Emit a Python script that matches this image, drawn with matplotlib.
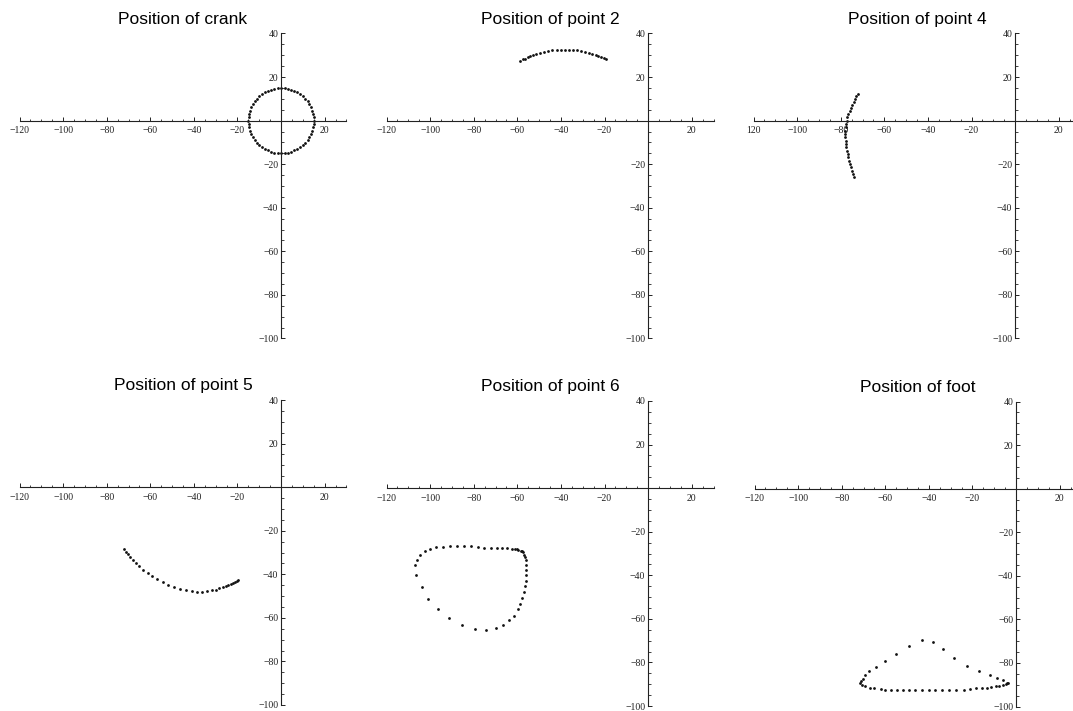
import matplotlib
matplotlib.use("Agg")
import matplotlib.pyplot as plt
from matplotlib.ticker import FixedLocator

# Posiciones (x, y) para cada punto del mecanismo

# Manivela: círculo de radio ~15 alrededor del origen
crank_x = [15.0, 14.92, 14.67, 14.27, 13.70, 12.99, 12.14, 11.15, 10.04, 8.82,
           7.50, 6.10, 4.64, 3.12, 1.57, 0.0, -1.57, -3.12, -4.64, -6.10,
           -7.50, -8.82, -10.04, -11.15, -12.14, -12.99, -13.70, -14.27, -14.67, -14.92,
           -15.0, -14.92, -14.67, -14.27, -13.70, -12.99, -12.14, -11.15, -10.04, -8.82,
           -7.50, -6.10, -4.64, -3.12, -1.57, 0.0, 1.57, 3.12, 4.64, 6.10,
           7.50, 8.82, 10.04, 11.15, 12.14, 12.99, 13.70, 14.27, 14.67, 14.92]
crank_y = [0.0, 1.57, 3.12, 4.64, 6.10, 7.50, 8.82, 10.04, 11.15, 12.14,
           12.99, 13.70, 14.27, 14.67, 14.92, 15.0, 14.92, 14.67, 14.27, 13.70,
           12.99, 12.14, 11.15, 10.04, 8.82, 7.50, 6.10, 4.64, 3.12, 1.57,
           0.0, -1.57, -3.12, -4.64, -6.10, -7.50, -8.82, -10.04, -11.15, -12.14,
           -12.99, -13.70, -14.27, -14.67, -14.92, -15.0, -14.92, -14.67, -14.27, -13.70,
           -12.99, -12.14, -11.15, -10.04, -8.82, -7.50, -6.10, -4.64, -3.12, -1.57]

# Punto 2
p2_x = [-58.7, -57.6, -56.6, -55.3, -54.1, -52.8, -51.2, -49.5, -47.7, -45.9, -43.9, -41.9, -40.0,
        -38.2, -36.4, -34.5, -32.7, -30.9, -29.0, -27.3, -25.7, -24.1, -22.8, -21.6, -20.3, -19.1]
p2_y = [27.4, 28.1, 28.5, 29.1, 29.6, 30.0, 30.5, 31.0, 31.4, 31.9, 32.2, 32.5, 32.6,
        32.6, 32.5, 32.3, 32.2, 31.9, 31.6, 31.1, 30.7, 30.2, 29.7, 29.3, 28.8, 28.4]

# Punto 4
p4_x = [-72.2, -72.8, -73.4, -74.0, -74.6, -75.2, -75.8, -76.5, -76.9, -77.2, -77.5, -77.7, -77.8,
        -77.8, -77.8, -77.7, -77.5, -77.4, -77.1, -76.8, -76.5, -76.0, -75.6, -75.1, -74.6, -74.2, -73.9]
p4_y = [12.2, 11.1, 9.9, 8.7, 7.3, 6.0, 4.6, 3.1, 1.5, 0.0, -1.5, -3.1, -4.6,
        -6.1, -7.7, -9.2, -10.7, -12.2, -13.8, -15.3, -16.8, -18.3, -19.9, -21.4, -22.9, -24.5, -25.7]

# Punto 5
p5_x = [-71.9, -71.1, -70.3, -69.3, -68.0, -66.7, -65.1, -63.2, -61.2, -59.0, -56.7, -54.3, -51.7,
        -49.1, -46.3, -43.7, -41.0, -38.4, -36.1, -33.8, -31.8, -30.0, -28.3, -26.7, -25.4, -24.2,
        -23.1, -22.2, -21.2, -20.3, -19.6]
p5_y = [-28.6, -29.8, -30.9, -32.1, -33.5, -34.9, -36.4, -38.1, -39.6, -41.0, -42.3, -43.7, -44.8,
        -45.9, -46.6, -47.2, -47.7, -48.0, -48.0, -47.7, -47.4, -47.0, -46.5, -45.9, -45.4, -44.8,
        -44.3, -43.9, -43.4, -42.9, -42.7]

# Punto 6
p6_x = [-106.9, -106.4, -103.8, -100.8, -96.5, -91.3, -85.2, -79.5, -74.5, -69.9, -66.7, -63.7,
        -61.5, -59.8, -58.8, -57.7, -56.9, -56.5, -56.2, -56.0, -56.0, -56.0, -56.2, -56.5, -56.9,
        -57.5, -58.0, -58.5, -59.6, -60.3, -61.1, -62.6, -64.6, -67.2, -69.4, -72.2, -75.1, -78.2,
        -81.2, -84.3, -87.8, -90.8, -93.9, -97.3, -100.0, -102.3, -104.6, -106.1]
p6_y = [-35.5, -39.7, -45.5, -50.7, -55.4, -59.7, -63.0, -64.7, -65.0, -64.1, -63.0, -60.7,
        -58.5, -55.7, -53.1, -50.4, -47.8, -45.0, -42.4, -40.0, -37.4, -35.1, -33.1, -31.7, -30.5,
        -29.5, -29.0, -28.7, -28.2, -28.0, -27.8, -27.8, -27.7, -27.5, -27.5, -27.5, -27.3, -27.0,
        -26.7, -26.7, -26.4, -26.6, -27.0, -27.0, -27.8, -28.7, -30.5, -32.8]

# Pie
foot_x = [-43.1, -38.3, -33.7, -28.4, -22.5, -16.8, -12.1, -8.7, -6.0, -4.1, -3.5,
          -48.9, -55.2, -60.3, -64.2, -67.6, -69.4, -70.4, -71.1, -71.4, -70.6, -69.1, -67.2,
          -65.0, -62.2, -60.0, -57.3, -54.6, -51.8, -49.1, -46.2, -43.3, -40.1, -37.0, -33.8,
          -30.7, -27.4, -24.0, -21.0, -18.2, -15.6, -13.3, -11.3, -9.4, -7.7, -6.0, -4.6]
foot_y = [-69.5, -70.2, -73.4, -77.8, -81.2, -83.9, -85.5, -86.7, -87.9, -89.0, -89.3,
          -72.2, -75.7, -79.2, -81.7, -83.9, -85.6, -87.2, -88.2, -89.0, -90.0, -90.6, -91.3,
          -91.6, -91.9, -92.2, -92.2, -92.2, -92.2, -92.2, -92.2, -92.2, -92.2, -92.2, -92.2,
          -92.2, -92.2, -92.2, -91.9, -91.6, -91.6, -91.4, -91.1, -90.8, -90.5, -90.2, -89.7]

titles = ["Position of crank", "Position of point 2", "Position of point 4",
          "Position of point 5", "Position of point 6", "Position of foot"]
series = [(crank_x, crank_y), (p2_x, p2_y), (p4_x, p4_y),
          (p5_x, p5_y), (p6_x, p6_y), (foot_x, foot_y)]

x_major = [-120, -100, -80, -60, -40, -20, 20]
y_major = [40, 20, -20, -40, -60, -80, -100]
x_minor = [v for v in range(-115, 31, 5) if v % 20 != 0]
y_minor = [v for v in range(-95, 40, 5) if v % 20 != 0]

# Posición de cada panel en píxeles (izquierda, arriba)
W, H = 1073, 711
box_w, box_h = 327, 305
lefts = [19.5, 386.5, 753.5, 19.5, 386.5, 754.5]
tops = [33.5, 33.5, 33.5, 400.0, 401.0, 401.5]

fig = plt.figure(figsize=(W / 100, H / 100), dpi=100)

for i in range(6):
    ax = fig.add_axes([lefts[i] / W, (H - tops[i] - box_h) / H, box_w / W, box_h / H])
    x, y = series[i]
    ax.plot(x, y, 'o', color='#111111', markersize=2.0, markeredgewidth=0)

    ax.set_xlim(-120, 30)
    ax.set_ylim(-100, 40)

    # Ejes cruzando en el origen
    ax.spines['top'].set_visible(False)
    ax.spines['right'].set_visible(False)
    ax.spines['left'].set_position(('data', 0))
    ax.spines['bottom'].set_position(('data', 0))
    for s in ['left', 'bottom']:
        ax.spines[s].set_color('#222222')
        ax.spines[s].set_linewidth(0.8)

    ax.xaxis.set_major_locator(FixedLocator(x_major))
    ax.yaxis.set_major_locator(FixedLocator(y_major))
    ax.xaxis.set_minor_locator(FixedLocator(x_minor))
    ax.yaxis.set_minor_locator(FixedLocator(y_minor))
    xlabels = ['\u2212' + str(-v) if v < 0 else str(v) for v in x_major]
    if i == 2:
        xlabels[0] = '120'
    ax.set_xticklabels(xlabels)
    ax.set_yticklabels(['\u2212' + str(-v) if v < 0 else str(v) for v in y_major])

    ax.tick_params(which='major', direction='in', length=3, width=0.7, color='#222222',
                   labelsize=7, labelcolor='#222222')
    ax.tick_params(which='minor', direction='in', length=1.8, width=0.6, color='#222222')
    ax.tick_params(axis='x', which='major', pad=4)
    ax.tick_params(axis='y', which='major', pad=2)
    for lab in ax.get_xticklabels() + ax.get_yticklabels():
        lab.set_family('Liberation Serif')

    ax.patch.set_visible(False)
    ax.set_title(titles[i], fontsize=12.5, family='Liberation Sans', pad=7)

plt.savefig('out.png', dpi=100)
